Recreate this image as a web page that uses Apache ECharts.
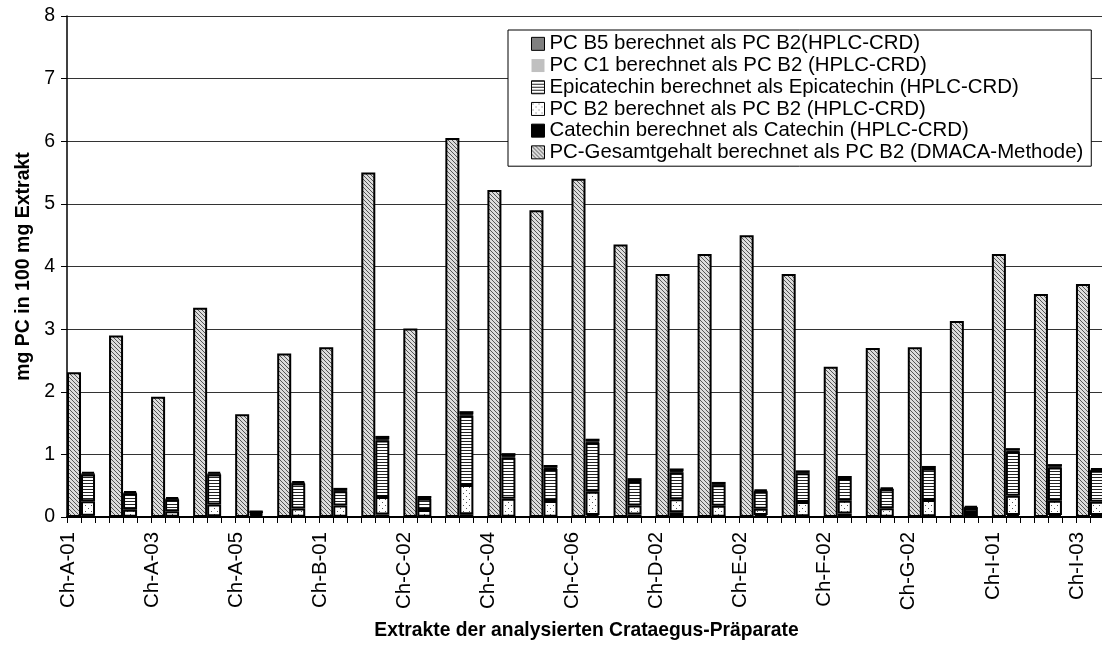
<!DOCTYPE html>
<html>
<head>
<meta charset="utf-8">
<script src="https://cdn.jsdelivr.net/npm/echarts@6/dist/echarts.min.js"></script>
<style>
html,body{margin:0;padding:0;background:#fff;}
#c{width:1102px;height:646px;}
</style>
</head>
<body>
<div id="c"></div>
<script>
// ---- data ----
const samples = ['Ch-A-01','Ch-A-02','Ch-A-03','Ch-A-04','Ch-A-05','Ch-A-06','Ch-B-01','Ch-C-01','Ch-C-02','Ch-C-03','Ch-C-04','Ch-C-05','Ch-C-06','Ch-D-01','Ch-D-02','Ch-E-01','Ch-E-02','Ch-F-01','Ch-F-02','Ch-G-01','Ch-G-02','Ch-H-01','Ch-I-01','Ch-I-02','Ch-I-03'];
const dmaca    = [2.31, 2.90, 1.92, 3.34, 1.64, 2.61, 2.71, 5.50, 3.01, 6.05, 5.22, 4.90, 5.40, 4.35, 3.88, 4.20, 4.50, 3.88, 2.40, 2.70, 2.71, 3.13, 4.20, 3.56, 3.72];
const catechin = [0.02, 0.005, 0.005, 0.01, 0.03, 0.005, 0.005, 0.04, 0.005, 0.045, 0.005, 0.005, 0.03, 0.04, 0.075, 0.005, 0.03, 0.01, 0.055, 0.005, 0.01, 0.005, 0.03, 0.03, 0.03];
const pcB2     = [0.23, 0.11, 0.085, 0.19, 0.02, 0.13, 0.18, 0.28, 0.105, 0.465, 0.285, 0.25, 0.375, 0.145, 0.21, 0.175, 0.10, 0.23, 0.205, 0.135, 0.26, 0.06, 0.31, 0.23, 0.215];
const epicat   = [0.43, 0.26, 0.19, 0.48, 0.025, 0.40, 0.225, 0.90, 0.18, 1.11, 0.66, 0.51, 0.78, 0.38, 0.43, 0.325, 0.275, 0.46, 0.35, 0.30, 0.50, 0.08, 0.70, 0.53, 0.495];
const pcC1     = [0.01, 0.01, 0.01, 0.01, 0.005, 0.01, 0.01, 0.02, 0.01, 0.02, 0.02, 0.02, 0.02, 0.01, 0.015, 0.01, 0.01, 0.01, 0.01, 0.005, 0.01, 0.005, 0.02, 0.015, 0.01];
const pcB5     = [0.03, 0.03, 0.03, 0.03, 0.015, 0.03, 0.045, 0.055, 0.035, 0.05, 0.05, 0.045, 0.045, 0.045, 0.045, 0.045, 0.025, 0.035, 0.035, 0.025, 0.035, 0.025, 0.04, 0.04, 0.03];

const seriesNames = {
  b5: 'PC B5 berechnet als PC B2(HPLC-CRD)',
  c1: 'PC C1 berechnet als PC B2 (HPLC-CRD)',
  epi: 'Epicatechin berechnet als Epicatechin (HPLC-CRD)',
  b2: 'PC B2 berechnet als PC B2 (HPLC-CRD)',
  cat: 'Catechin berechnet als Catechin (HPLC-CRD)',
  dm: 'PC-Gesamtgehalt berechnet als PC B2 (DMACA-Methode)'
};
const yTitle = 'mg PC in 100 mg Extrakt';
const xTitle = 'Extrakte der analysierten Crataegus-Präparate';

// ---- slots: per sample DMACA bar, HPLC stacked bar, empty slot ----
const slots = [];
samples.forEach(s => { slots.push(s + '|dm'); slots.push(s + '|hplc'); slots.push(s + '|gap'); });
function slotData(arr, offset) {
  const out = [];
  arr.forEach(v => { for (let j = 0; j < 3; j++) out.push(j === offset ? v : '-'); });
  return out;
}

// ---- patterns ----
function pattern(w, h, bg, fg, pts) {
  const c = document.createElement('canvas');
  c.width = w; c.height = h;
  const g = c.getContext('2d');
  g.fillStyle = bg; g.fillRect(0, 0, w, h);
  g.fillStyle = fg;
  pts.forEach(p => g.fillRect(p[0], p[1], 1, 1));
  return { image: c, repeat: 'repeat' };
}
const hatch = pattern(4, 4, '#dcdcdc', '#555555', [[0,0],[1,1],[2,2],[3,3]]);
const hlines = pattern(3, 3, '#ffffff', '#222222', [[0,0],[1,0],[2,0]]);
const dots = pattern(6, 6, '#ffffff', '#555555', [[1,1],[4,4]]);

const FONT = "'Liberation Sans', Arial, sans-serif";
const border = { borderColor: '#000', borderWidth: 2 };

function bar(name, data, offset, color, extra) {
  return Object.assign({
    name: name, type: 'bar', stack: 'all', barCategoryGap: '0%',
    data: slotData(data, offset),
    itemStyle: Object.assign({ color: color }, border),
    emphasis: { disabled: true },
    animation: false
  }, extra || {});
}

const chart = echarts.init(document.getElementById('c'), null, { renderer: 'canvas' });
chart.setOption({
  animation: false,
  backgroundColor: '#fff',
  grid: { left: 67, top: 16, width: 1051, height: 501, containLabel: false, outerBoundsMode: 'none' },
  legend: {
    orient: 'vertical', left: 508, top: 30,
    padding: [3, 8, 3, 23],
    icon: 'rect',
    itemGap: 0, itemWidth: 13, itemHeight: 13,
    backgroundColor: '#fff', borderColor: '#000', borderWidth: 1,
    itemStyle: { borderWidth: 1, borderColor: '#000' },
    textStyle: { fontFamily: FONT, fontSize: 20.4, color: '#000', lineHeight: 21.7, padding: [0,0,0,0] },
    data: [
      seriesNames.b5,
      { name: seriesNames.c1, itemStyle: { borderWidth: 0 } },
      seriesNames.epi, seriesNames.b2, seriesNames.cat, seriesNames.dm
    ],
    selectedMode: false
  },
  xAxis: {
    type: 'category', data: slots, boundaryGap: true,
    axisLine: { lineStyle: { color: '#000', width: 2 } },
    axisTick: { show: true, interval: 0, length: 6, lineStyle: { color: '#000', width: 1 } },
    axisLabel: {
      interval: (i) => i % 6 === 0,
      formatter: (v) => v.split('|')[0],
      rotate: 90, margin: 15, fontFamily: FONT, fontSize: 20.4, color: '#000',
      verticalAlign: 'bottom', lineHeight: 12
    },
    name: xTitle, nameLocation: 'middle', nameGap: 104,
    nameTextStyle: { fontFamily: FONT, fontSize: 19.3, fontWeight: 'bold', color: '#000', padding: [0, 12, 0, 0] }
  },
  yAxis: {
    type: 'value', min: 0, max: 8, interval: 1,
    axisLine: { show: true, lineStyle: { color: '#000', width: 1.5 } },
    axisTick: { show: true, length: 6, lineStyle: { color: '#000' } },
    axisLabel: { margin: 12, fontFamily: FONT, fontSize: 19.5, color: '#000' },
    splitLine: { show: true, lineStyle: { color: '#333', width: 1 } },
    name: yTitle, nameLocation: 'middle', nameGap: 31, nameRotate: 90,
    nameTextStyle: { fontFamily: FONT, fontSize: 19.5, fontWeight: 'bold', color: '#000' }
  },
  series: [
    bar(seriesNames.dm, dmaca, 0, hatch),
    bar(seriesNames.cat, catechin, 1, '#000000'),
    bar(seriesNames.b2, pcB2, 1, dots),
    bar(seriesNames.epi, epicat, 1, hlines),
    bar(seriesNames.c1, pcC1, 1, '#c0c0c0', { itemStyle: { color: '#c0c0c0', borderColor: '#000', borderWidth: 1 } }),
    bar(seriesNames.b5, pcB5, 1, '#808080')
  ]
});
</script>
</body>
</html>
